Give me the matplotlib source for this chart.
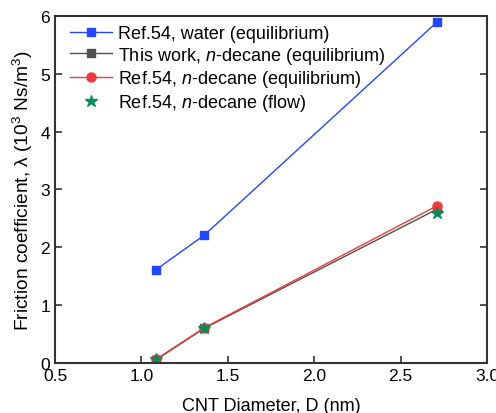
import matplotlib
matplotlib.use("Agg")
import matplotlib.pyplot as plt

plt.rcParams['font.family'] = ['Liberation Sans', 'DejaVu Sans']
plt.rcParams['mathtext.fontset'] = 'custom'
plt.rcParams['mathtext.rm'] = 'Liberation Sans'
plt.rcParams['mathtext.it'] = 'Liberation Sans:italic'

# CNT diameters (nm)
diam = [1.083, 1.364, 2.712]

water_eq = [1.61, 2.21, 5.90]
this_work = [0.05, 0.60, 2.66]
decane_eq = [0.06, 0.61, 2.72]
decane_flow = [0.06, 0.60, 2.59]

xticks = [0.5, 1.0, 1.5, 2.0, 2.5, 3.0]
yticks = [0, 1, 2, 3, 4, 5, 6]

fig = plt.figure(figsize=(4.96, 4.14), dpi=100)
ax = fig.add_axes([0.111, 0.121, 0.871, 0.838])

ax.plot(diam, water_eq, color='#2446ff', lw=1.0, marker='s', ms=6,
        label='Ref.54, water (equilibrium)')
ax.plot(diam, this_work, color='#505050', lw=1.0, marker='s', ms=6,
        label='This work, $\\it{n}$-decane (equilibrium)')
ax.plot(diam, decane_eq, color='#ee3b3b', lw=1.0, marker='o', ms=6.5,
        label='Ref.54, $\\it{n}$-decane (equilibrium)')
ax.plot(diam, decane_flow, ls='none', color='#0a8a5a', marker='*', ms=9,
        label='Ref.54, $\\it{n}$-decane (flow)')

ax.set_xlim(0.5, 3.0)
ax.set_ylim(0, 6)
ax.set_xticks(xticks)
ax.set_yticks(yticks)
ax.set_xticklabels([f'{v:.1f}' for v in xticks])
ax.set_yticklabels([str(v) for v in yticks])
ax.tick_params(direction='in', length=5, width=1.2, labelsize=12.5,
               right=True, top=False, colors='#333333', labelcolor='black')
for s in ax.spines.values():
    s.set_linewidth(1.5)
    s.set_color('#333333')

ax.set_xlabel('CNT Diameter, D (nm)', fontsize=13, labelpad=10)
ax.set_ylabel('Friction coefficient, λ (10$^3$ Ns/m$^3$)', fontsize=13.8, labelpad=4)

ax.legend(loc='upper left', frameon=False, fontsize=13, handlelength=2.3,
          handletextpad=0.35, labelspacing=0.15, borderaxespad=0.2,
          bbox_to_anchor=(0.01, 1.005))

fig.savefig('out.png', dpi=100)
